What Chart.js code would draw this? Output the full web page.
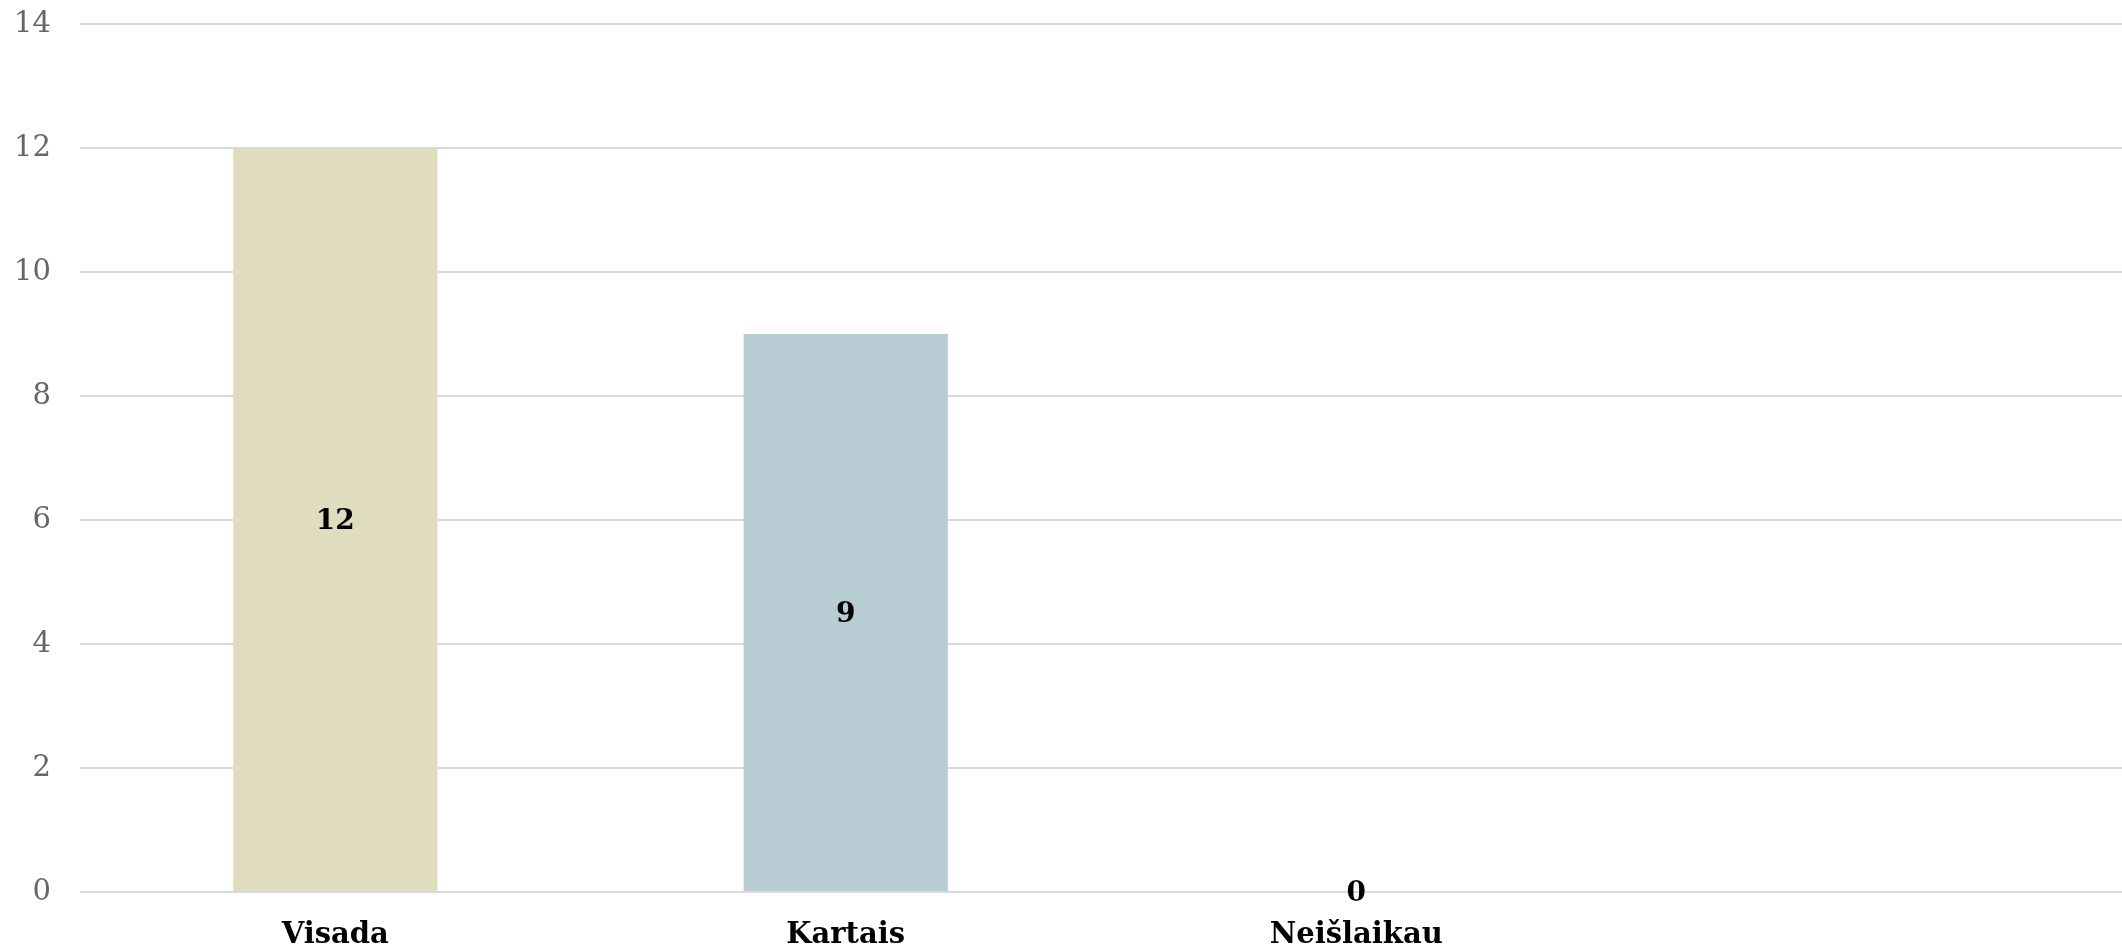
<!DOCTYPE html>
<html>
<head>
<meta charset="utf-8">
<script src="https://cdn.jsdelivr.net/npm/chart.js@4"></script>
<style>
  html, body { margin: 0; padding: 0; background: #fff; }
  #wrap { width: 2122px; height: 948px; position: relative; }
</style>
</head>
<body>
<div id="wrap"><canvas id="barChart"></canvas></div>
<script>
// data
const categories = ['Visada', 'Kartais', 'Neišlaikau', ''];
const answers = [12, 9, 0, null];
const barColors = ['#E0DDBF', '#B7CDD3', '#D9D9D9', '#D9D9D9'];
const yTicks = [0, 2, 4, 6, 8, 10, 12, 14];

// value labels in the middle of each bar
const valueLabels = {
    id: 'valueLabels',
    afterDatasetsDraw(chart) {
        const ctx = chart.ctx;
        const meta = chart.getDatasetMeta(0);
        ctx.save();
        ctx.font = 'bold 28px "DejaVu Serif"';
        ctx.fillStyle = '#000';
        ctx.textAlign = 'center';
        ctx.textBaseline = 'middle';
        meta.data.forEach(function (bar, i) {
            const v = answers[i];
            if (v === null || v === undefined) return;
            const p = bar.getProps(['x', 'y', 'base'], true);
            ctx.fillText(String(v), p.x, (p.y + p.base) / 2 + 2);
        });
        ctx.restore();
    }
};

const ctx = document.getElementById('barChart').getContext('2d');
const chart = new Chart(ctx, {
    type: 'bar',
    data: {
        labels: categories,
        datasets: [{
            label: 'Atsakymai',
            data: answers,
            backgroundColor: barColors,
            borderWidth: 0,
            categoryPercentage: 1,
            barPercentage: 0.4
        }]
    },
    options: {
        responsive: true,
        maintainAspectRatio: false,
        animation: false,
        layout: { padding: 0 },
        plugins: {
            legend: { display: false },
            tooltip: { enabled: false }
        },
        scales: {
            x: {
                grid: { display: false, drawTicks: false },
                border: { display: false },
                ticks: {
                    padding: 26,
                    color: '#000',
                    font: { family: '"DejaVu Serif"', size: 29, weight: 'bold' }
                },
                afterFit(scale) { scale.height = 56; }
            },
            y: {
                min: 0,
                max: 14,
                afterBuildTicks(scale) {
                    scale.ticks = yTicks.map(v => ({ value: v }));
                },
                grid: { color: '#D9D9D9', lineWidth: 2, drawTicks: false },
                border: { display: false },
                ticks: {
                    padding: 29,
                    color: '#666',
                    font: { family: '"DejaVu Serif"', size: 29 }
                },
                afterFit(scale) {
                    scale.width = 80;
                    scale.paddingTop = 24;
                    scale.paddingBottom = 17;
                }
            }
        }
    },
    plugins: [valueLabels]
});
</script>
</body>
</html>
